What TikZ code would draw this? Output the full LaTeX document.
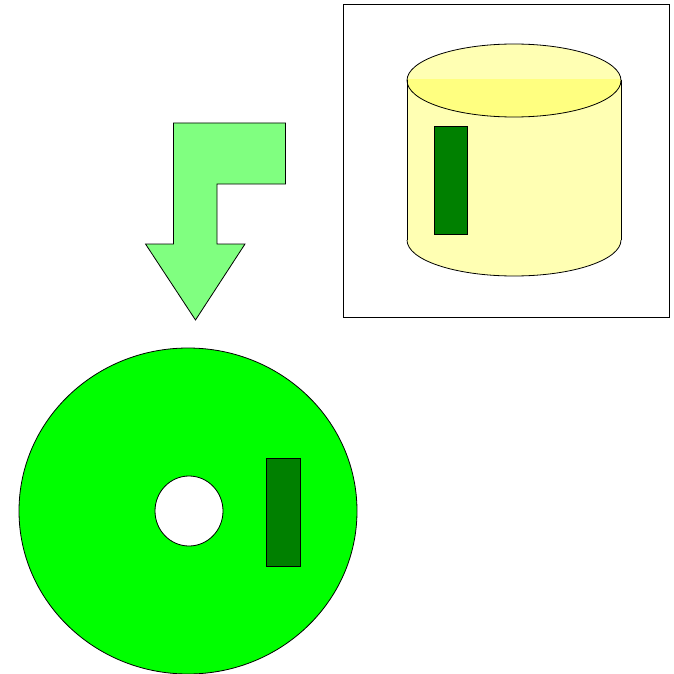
\documentclass[tikz,border=0pt]{standalone}
\definecolor{cyl}{HTML}{FFFFB3}
\definecolor{cyltop}{HTML}{FFFF80}
\definecolor{arrowg}{HTML}{80FF80}
\definecolor{disc}{HTML}{00FF00}
\definecolor{dk}{HTML}{008000}
\tikzset{ln/.style={draw=black,line width=0.8pt}}
\begin{document}
\begin{tikzpicture}[x=1pt,y=-1pt,line join=miter]
\useasboundingbox (0,0) rectangle (673,674);
% frame
\draw[ln] (343.5,4.5) rectangle (669.5,317);
% cylinder
\fill[cyl] (407,80) rectangle (621,240);
\fill[cyl] (514,240) ellipse[x radius=107,y radius=36];
\fill[cyl] (514,80.5) ellipse[x radius=107,y radius=36.5];
\begin{scope}
\clip (400,80) rectangle (630,125);
\fill[cyltop] (514,80.5) ellipse[x radius=107,y radius=36.5];
\end{scope}
\draw[ln] (514,80.5) ellipse[x radius=107,y radius=36.5];
\begin{scope}
\clip (400,240) rectangle (630,290);
\draw[ln] (514,240) ellipse[x radius=107,y radius=36];
\end{scope}
\draw[ln] (407,80) -- (407,240);
\draw[ln] (621,80) -- (621,240);
\draw[ln,fill=dk] (434,126.5) rectangle (467,234);
% arrow
\draw[ln,fill=arrowg] (173.5,123) -- (285.5,123) -- (285.5,184) -- (217,184) -- (217,244) -- (245,244) -- (195.5,320) -- (145.5,244) -- (173.5,244) -- cycle;
% disc
\begin{scope}
\clip (0,0) rectangle (673,674);
\draw[ln,fill=disc,even odd rule] (188,511) ellipse[x radius=169,y radius=163] (189,511) ellipse[x radius=34,y radius=35];
\end{scope}
\draw[ln,fill=dk] (266.5,458.5) rectangle (300,566);
\end{tikzpicture}
\end{document}
